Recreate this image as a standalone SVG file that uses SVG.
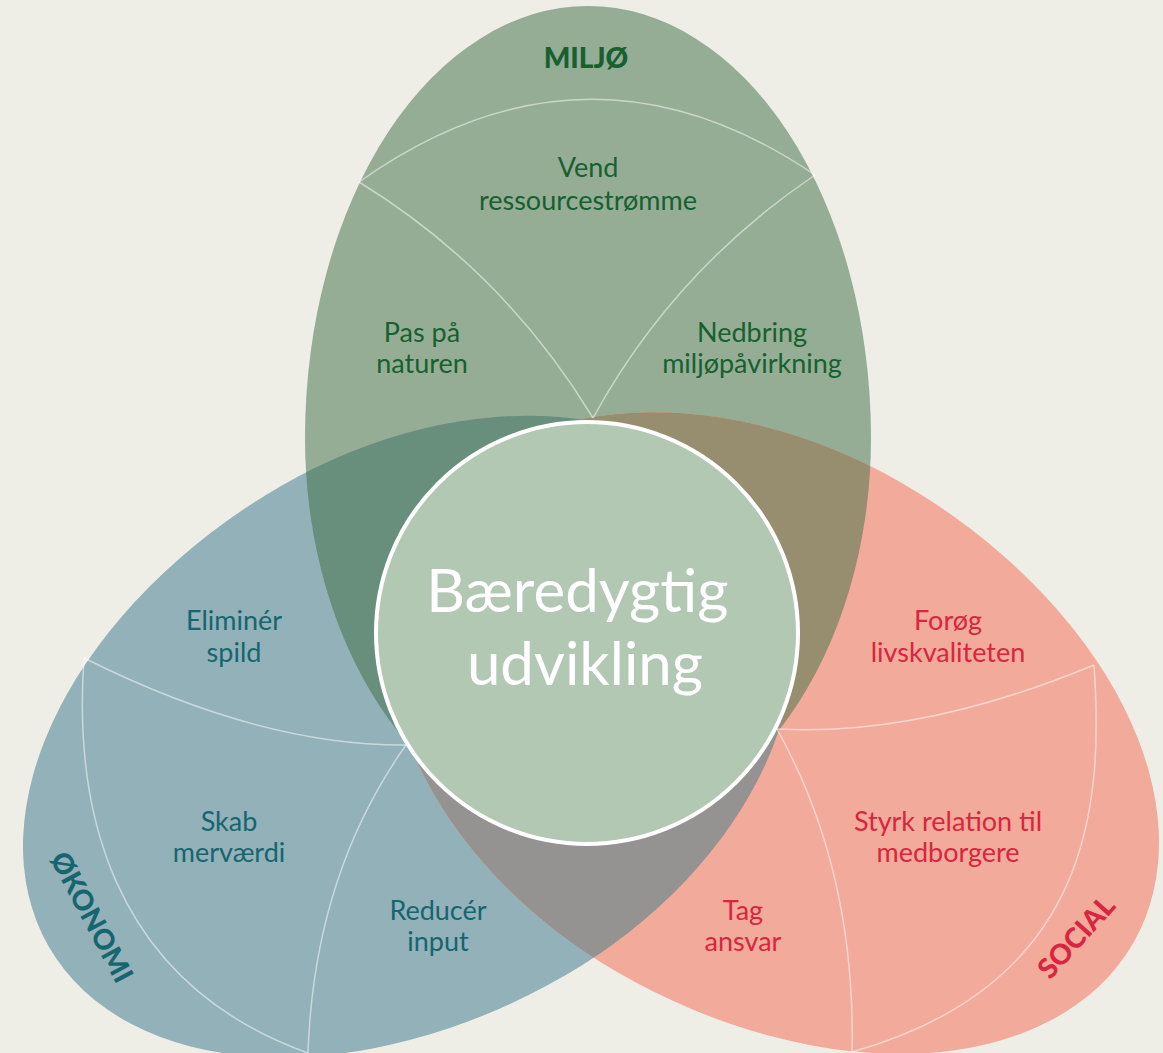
<svg xmlns="http://www.w3.org/2000/svg" xmlns:xlink="http://www.w3.org/1999/xlink" width="1163" height="1053" viewBox="0 0 1163 1053">
  <style>
    .lbl { font-family: Lato, "Open Sans", sans-serif; font-size: 27px; text-anchor: middle; }
    .g { fill: #17602f; }
    .b { fill: #17656f; }
    .r { fill: #d9253f; }
    .ttl { font-family: Lato, "Open Sans", sans-serif; font-weight: 900; font-size: 28px; text-anchor: middle; }
    .div { fill: none; stroke: #ffffff; stroke-opacity: 0.5; stroke-width: 1.5; }
  </style>
  <defs>
    <path id="egg" d="M 305 438 A 283 432 0 0 1 871 438 A 283 396 0 0 1 305 438 Z"/>
    <clipPath id="clipG"><use xlink:href="#egg"/></clipPath>
    <clipPath id="clipB"><use xlink:href="#egg" transform="rotate(-120 590 632)"/></clipPath>
  </defs>
  <rect width="1163" height="1053" fill="#efeee6"/>

  <g id="shapes">
    <use id="shape-miljo" xlink:href="#egg" fill="#95ad95"/>
    <use id="shape-okonomi" xlink:href="#egg" fill="#92b1b9" transform="rotate(-120 590 632)"/>
    <use id="shape-social" xlink:href="#egg" fill="#f2aa9b" transform="rotate(120 590 632)"/>
    <g clip-path="url(#clipG)">
      <use xlink:href="#egg" fill="#688f7c" transform="rotate(-120 590 632)"/>
      <use xlink:href="#egg" fill="#978e70" transform="rotate(120 590 632)"/>
    </g>
    <g clip-path="url(#clipB)">
      <use xlink:href="#egg" fill="#959391" transform="rotate(120 590 632)"/>
    </g>
  </g>

  <g id="connectors">
    <path class="div" d="M 593 418 Q 504 271 359 182"/>
    <path class="div" d="M 593 418 Q 674 270 815 175"/>
    <path class="div" d="M 359 182 Q 587 20 815 175"/>
    <path class="div" d="M 406 745 Q 260 746 84 658"/>
    <path class="div" d="M 406 745 Q 314 875 308 1053"/>
    <path class="div" d="M 84 658 C 74 800 105 980 308 1053"/>
    <path class="div" d="M 777 729 Q 920 737 1094 665"/>
    <path class="div" d="M 777 729 Q 856 871 852 1052"/>
    <path class="div" d="M 1094 665 C 1104 807 1090 985 852 1052"/>
  </g>

  <g id="center">
    <circle cx="587" cy="633" r="211" fill="#b2c8b3" stroke="#ffffff" stroke-width="4"/>
    <text font-family="Lato, 'Open Sans', sans-serif" font-size="60" fill="#ffffff" text-anchor="middle">
      <tspan x="585" y="612">Bæredygtig</tspan>
      <tspan x="585" y="685">udvikling</tspan>
    </text>
  </g>

  <g id="miljo">
    <text class="ttl g" x="586" y="68">MILJØ</text>
    <text class="lbl g"><tspan x="588" y="177">Vend</tspan><tspan x="588" y="210">ressourcestrømme</tspan></text>
    <text class="lbl g"><tspan x="422" y="342">Pas på</tspan><tspan x="422" y="373">naturen</tspan></text>
    <text class="lbl g"><tspan x="752" y="342">Nedbring</tspan><tspan x="752" y="373">miljøpåvirkning</tspan></text>
  </g>

  <g id="okonomi">
    <text class="ttl b" transform="translate(92 917) rotate(62)" x="0" y="10">ØKONOMI</text>
    <text class="lbl b"><tspan x="234" y="630">Eliminér</tspan><tspan x="234" y="662">spild</tspan></text>
    <text class="lbl b"><tspan x="229" y="831">Skab</tspan><tspan x="229" y="862">merværdi</tspan></text>
    <text class="lbl b"><tspan x="438" y="920">Reducér</tspan><tspan x="438" y="951">input</tspan></text>
  </g>

  <g id="social">
    <text class="ttl r" transform="translate(1076 937) rotate(-48)" x="0" y="10">SOCIAL</text>
    <text class="lbl r"><tspan x="948" y="630">Forøg</tspan><tspan x="948" y="662">livskvaliteten</tspan></text>
    <text class="lbl r"><tspan x="948" y="831">Styrk relation til</tspan><tspan x="948" y="862">medborgere</tspan></text>
    <text class="lbl r"><tspan x="743" y="920">Tag</tspan><tspan x="743" y="951">ansvar</tspan></text>
  </g>
</svg>
